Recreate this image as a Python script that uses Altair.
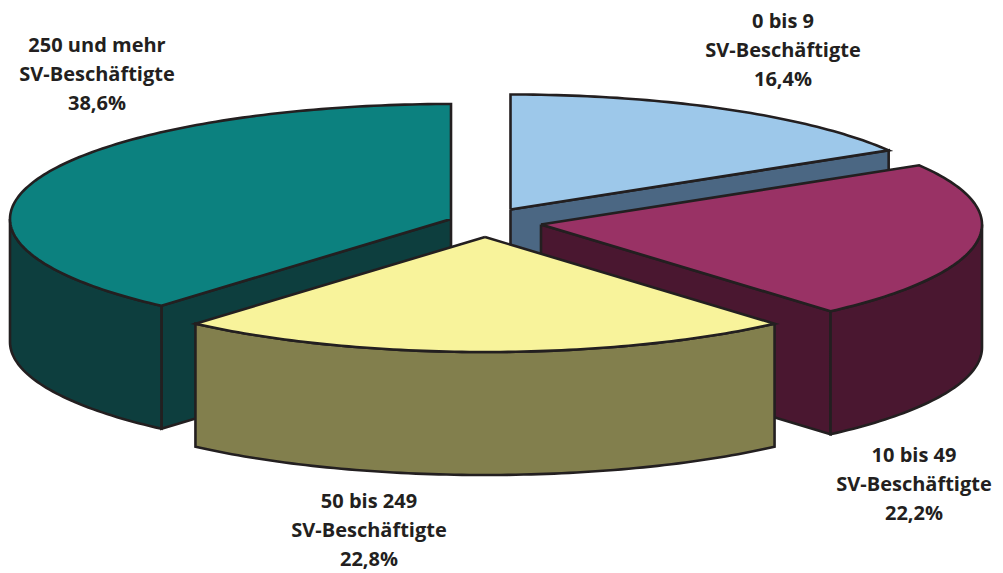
import math
import altair as alt
import pandas as pd

# Shares in percent, clockwise from 12 o'clock
categories = ["0 bis 9", "10 bis 49", "50 bis 249", "250 und mehr"]
shares = [16.4, 22.2, 22.8, 38.6]
label_lines = [
    ["0 bis 9", "SV-Beschäftigte", "16,4%"],
    ["10 bis 49", "SV-Beschäftigte", "22,2%"],
    ["50 bis 249", "SV-Beschäftigte", "22,8%"],
    ["250 und mehr", "SV-Beschäftigte", "38,6%"],
]
top_colors = ["#9DC8EA", "#993265", "#F8F39B", "#0C817F"]
side_colors = ["#4B6783", "#4A1730", "#827F4D", "#0D3E3E"]
apex_x = [510.5, 541, 485, 451]
apex_y = [209.5, 224.5, 237, 219]
label_x = [783, 914, 369, 97]
label_y = [22, 456, 502, 46]
RX, RY, DEPTH = 441, 115, 123
OUTLINE = "#231F20"


def rim(i, t):
    return (apex_x[i] + RX * math.sin(t), apex_y[i] - RY * math.cos(t))


def arc(i, t0, t1):
    n = max(2, int(abs(t1 - t0) / math.radians(1)))
    return [rim(i, t0 + (t1 - t0) * k / n) for k in range(n + 1)]


def drop(points):
    return [(x, y + DEPTH) for x, y in points]


X = alt.Scale(domain=[8, 995], range=[0, 987])
Y = alt.Scale(domain=[8, 573], range=[0, 565])


def poly(points, fill):
    pts = list(points) + [points[0]]
    df = pd.DataFrame({"x": [p[0] for p in pts], "y": [p[1] for p in pts], "o": range(len(pts))})
    return alt.Chart(df).mark_line(fill=fill, stroke=OUTLINE, strokeWidth=2.6, strokeJoin="miter", interpolate="linear", clip=False).encode(
        x=alt.X("x:Q", scale=X, axis=None),
        y=alt.Y("y:Q", scale=Y, axis=None),
        order="o:Q",
    )


bounds = []
acc = 0
for s in shares:
    bounds.append((2 * math.pi * acc / 100, 2 * math.pi * (acc + s) / 100))
    acc += s

layers = []
for i in [0, 3, 1, 2]:
    t0, t1 = bounds[i]
    apex = (apex_x[i], apex_y[i])
    # cut face turned to the viewer
    if i in (0, 1, 3):
        e = rim(i, t0 if i == 3 else t1)
        layers.append(poly([apex, e, (e[0], e[1] + DEPTH), (apex[0], apex[1] + DEPTH)], side_colors[i]))
    # outer wall (front half of the rim only)
    w0, w1 = max(t0, math.pi / 2), min(t1, 3 * math.pi / 2)
    if w1 > w0:
        top = arc(i, w0, w1)
        layers.append(poly(top + drop(top)[::-1], side_colors[i]))
    # top face
    layers.append(poly([apex] + arc(i, t0, t1), top_colors[i]))

rows = []
for i, lines in enumerate(label_lines):
    for k, line in enumerate(lines):
        rows.append({"x": label_x[i], "y": label_y[i] + k * 29, "t": line})
text = alt.Chart(pd.DataFrame(rows)).mark_text(
    font="Open Sans", fontSize=20, fontWeight="bold", color=OUTLINE, align="center", baseline="middle"
).encode(
    x=alt.X("x:Q", scale=X, axis=None),
    y=alt.Y("y:Q", scale=Y, axis=None),
    text="t:N",
)

chart = alt.layer(*layers, text).properties(
    width=987, height=565, padding=0, background="white", autosize=alt.AutoSizeParams(type="none")
).configure_view(stroke=None)
chart.save("out.html", embed_options={"renderer": "svg", "actions": False})
